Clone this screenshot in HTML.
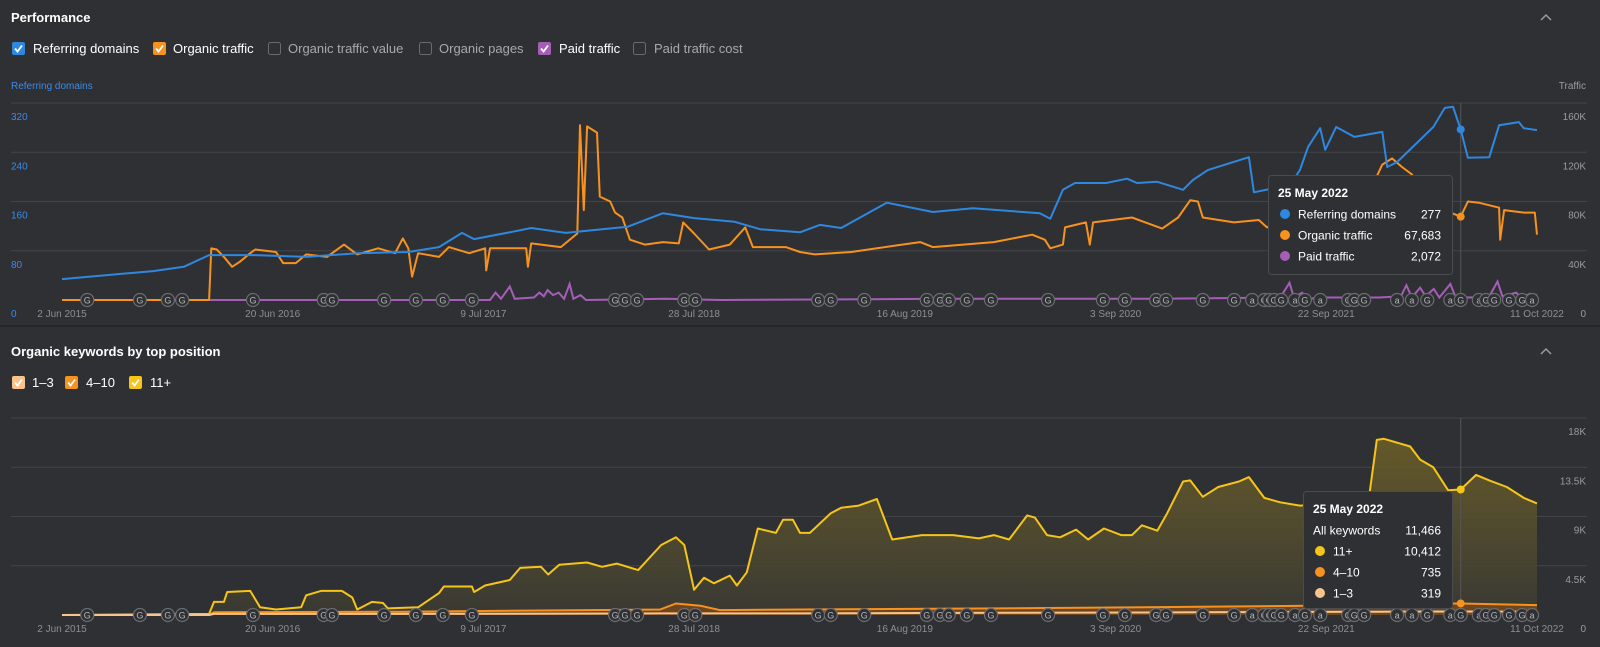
<!DOCTYPE html>
<html><head><meta charset="utf-8"><style>
html,body{margin:0;padding:0;background:#2f3033;}
body{width:1600px;height:642px;overflow:hidden;font-family:"Liberation Sans",Arial,sans-serif;}
svg text{font-family:"Liberation Sans",Arial,sans-serif;}
</style></head><body>
<svg id="svg" width="1600" height="642" viewBox="0 0 1600 642" xmlns="http://www.w3.org/2000/svg">
<defs>
<linearGradient id="yfill" x1="0" y1="0" x2="0" y2="1">
<stop offset="0" stop-color="#6e6028" stop-opacity="0.85"/>
<stop offset="1" stop-color="#3a3a33" stop-opacity="0.9"/>
</linearGradient>
</defs>
<rect x="0" y="0" width="1600" height="642" fill="#2f3033"/>
<g id="static"></g>
<g id="c1"></g>
<g id="c2"></g>
</svg>
<script>
// ===== Chart 1 data (day offset from 2 Jun 2015) =====
const tickLabels = ["2 Jun 2015","20 Jun 2016","9 Jul 2017","28 Jul 2018","16 Aug 2019","3 Sep 2020","22 Sep 2021","11 Oct 2022"];
const tickDays = [0,384,768,1152,1536,1920,2304,2688];
const leftTicks = [0,80,160,240,320];
const rightTicks = ["0","40K","80K","120K","160K"];
const rightTickVals = [0,40,80,120,160];
const rdDays = [0,166,222,268,352,445,538,631,687,729,751,816,855,918,984,1031,1095,1152,1226,1272,1345,1381,1420,1503,1587,1660,1782,1801,1824,1846,1903,1941,1959,1996,2043,2061,2088,2163,2172,2238,2256,2271,2293,2302,2322,2355,2406,2415,2433,2499,2520,2535,2549,2562,2601,2619,2655,2664,2688];
const rdVals = [34,47,54,73,73,70,76,78,86,109,99,110,117,109,115,119,141,133,127,115,110,122,117,158,143,149,141,132,179,190,190,197,190,192,179,195,211,232,175,187,211,249,279,244,281,265,273,216,224,281,312,314,277,231,232,284,289,279,276];
const otDays = [0,268,272,282,295,310,324,343,352,390,403,426,445,483,514,538,576,607,621,631,638,649,687,705,742,771,773,780,846,849,855,909,939,944,951,957,975,980,999,1008,1021,1035,1062,1095,1124,1132,1152,1179,1217,1245,1259,1319,1345,1372,1438,1531,1564,1587,1698,1768,1791,1801,1824,1828,1866,1873,1879,1950,2005,2034,2056,2070,2079,2136,2181,2196,2220,2293,2347,2384,2406,2424,2442,2460,2493,2530,2549,2562,2582,2619,2621,2628,2664,2684,2688];
const otVals = [0,0,42,41,35,27,31,38,41,39,30,30,37,35,45,37,42,38,50,42,19,38,35,43,38,42,24,42,42,27,46,43,54,142,73,141,136,84,80,71,67,49,45,47,46,63,54,41,45,59,43,43,39,37,39,45,47,43,47,53,49,42,45,59,63,45,63,67,58,67,81,80,67,63,65,59,63,69,73,89,110,115,108,102,69,71,67.7,80,79,75,49,73,71,71,53];
const ptDays = [0,780,790,800,816,825,860,870,878,885,895,905,915,925,932,945,955,1100,1200,1600,2000,2220,2237,2245,2260,2270,2300,2400,2440,2450,2460,2475,2485,2500,2510,2530,2540,2549,2600,2616,2625,2650,2660,2675,2688];
const ptVals = [0,0,6,1,11,1,2,6,3,8,4,6,1,13,1,4,0,1,0,1,1,2,14,2,6,1,2,2,3,12,2,10,3,9,2,13,2,2.1,2,15,3,6,2,5,4];
const annDays = [46,142,193,219,348,477,492,587,645,694,747,1008,1026,1048,1134,1154,1378,1401,1462,1576,1600,1616,1649,1693,1797,1897,1937,1994,2012,2079,2136,2169,2191,2200,2209,2222,2247,2265,2293,2344,2355,2373,2433,2460,2488,2530,2549,2582,2595,2610,2637,2661,2679];
const annKinds = "GGGGGGGGGGGGGGGGGGGGGGGGGGGGGGGaGGGGaGaGGGaaGaGaGGGGa";
// ===== Chart 2 data =====
const kwDays = [0,268,277,295,301,343,361,390,436,445,472,510,529,538,565,585,594,649,687,696,747,751,771,816,835,873,886,906,957,984,1011,1050,1092,1119,1134,1152,1170,1188,1217,1230,1248,1268,1301,1314,1332,1345,1363,1401,1420,1452,1485,1513,1567,1624,1671,1698,1726,1759,1773,1795,1819,1848,1870,1899,1930,1950,1968,1996,2014,2043,2056,2079,2107,2145,2163,2191,2220,2256,2329,2382,2396,2409,2457,2475,2499,2526,2549,2577,2601,2633,2664,2688];
const kwAll = [0,0.1,1.2,1.2,2.1,2.2,0.7,0.5,0.7,1.8,2.2,2.2,1.6,0.5,1.2,1.1,0.6,0.7,2.0,2.6,2.6,2.1,2.7,3.2,4.3,4.4,3.7,4.6,4.8,4.4,4.7,4.1,6.4,7.1,6.4,2.3,3.4,2.9,3.6,2.7,3.9,7.9,7.5,8.7,8.7,7.5,7.5,9.3,9.8,10.0,10.6,6.9,7.3,7.3,7.0,7.3,6.9,9.1,8.9,7.3,7.1,7.8,6.9,7.9,7.3,7.3,8.2,7.7,9.3,12.2,12.3,10.8,11.7,12.2,12.6,10.7,10.3,10.0,10.2,10.8,16.0,16.1,15.4,14.2,13.5,11.4,11.466,12.8,12.3,11.7,10.7,10.2];
const kwLowDays = [0,268,277,616,1090,1119,1163,1199,1345,1709,2074,2384,2400,2549,2688];
const kw13 = [0,0,0.1,0.1,0.15,0.15,0.15,0.15,0.15,0.2,0.25,0.3,0.3,0.319,0.3];
const kw410 = [0,0,0.15,0.2,0.35,0.9,0.7,0.3,0.35,0.4,0.5,0.6,0.75,0.735,0.6];
const kwTicks = ["0","4.5K","9K","13.5K","18K"];
const kwTickVals = [0,4.5,9,13.5,18];
const hoverDay = 2549;

const NS="http://www.w3.org/2000/svg";
function el(tag,attrs,parent,txt){const e=document.createElementNS(NS,tag);for(const k in attrs)e.setAttribute(k,attrs[k]);if(txt!==undefined)e.textContent=txt;parent.appendChild(e);return e;}
const X0=62,X1=1537,DMAX=2688;
const xs=d=>X0+d/DMAX*(X1-X0);
// chart1 scales
const Y1B=300,Y1T=103;
const yL=v=>Y1B-v/320*(Y1B-Y1T);
const yR=v=>Y1B-v/160*(Y1B-Y1T);
// chart2 scale
const Y2B=615,Y2T=418;
const yK=v=>Y2B-v/18*(Y2B-Y2T);
function interp(days,vals,d){if(d<=days[0])return vals[0];for(let i=1;i<days.length;i++){if(d<=days[i]){const t=(d-days[i-1])/(days[i]-days[i-1]);return vals[i-1]+t*(vals[i]-vals[i-1]);}}return vals[vals.length-1];}
function linePath(days,vals,ys){return days.map((d,i)=>(i?"L":"M")+xs(d).toFixed(1)+","+ys(vals[i]).toFixed(1)).join("");}

const st=document.getElementById("static"),c1=document.getElementById("c1"),c2=document.getElementById("c2");
// ---- headers
let t=el("text",{x:11,y:22,fill:"#ffffff","font-size":13,"font-weight":"bold"},st,"Performance");


t=el("path",{d:"M1541,20 L1546,15 L1551,20",stroke:"#9a9b9e","stroke-width":1.5,fill:"none"},st);


t=el("text",{x:11,y:356,fill:"#ffffff","font-size":13,"font-weight":"bold"},st,"Organic keywords by top position");


t=el("path",{d:"M1541,354 L1546,349 L1551,354",stroke:"#9a9b9e","stroke-width":1.5,fill:"none"},st);


t=el("line",{x1:0,y1:326,x2:1600,y2:326,stroke:"#25262a","stroke-width":2},st);



function checkbox(x,y,color,checked,label,tx,name,textColor){
  const g=el("g",{},st);
  
  
  if(checked){el("rect",{x:x,y:y,width:13,height:13,rx:2,fill:color},g);
    el("path",{d:`M${x+3},${y+6.5} L${x+5.5},${y+9.5} L${x+10},${y+3.5}`,stroke:"#fff","stroke-width":1.8,fill:"none"},g);}
  else el("rect",{x:x+0.5,y:y+0.5,width:12,height:12,rx:2,fill:"none",stroke:"#6a6b6f"},g);
  el("text",{x:tx,y:y+11,fill:textColor,"font-size":13},g,label);
}
checkbox(12,42,"#2f88e0",true,"Referring domains",33,"legend-referring-domains","#ffffff");
checkbox(153,42,"#f7921e",true,"Organic traffic",173,"legend-organic-traffic","#ffffff");
checkbox(268,42,"",false,"Organic traffic value",288,"legend-organic-traffic-value","#a8a9ac");
checkbox(419,42,"",false,"Organic pages",439,"legend-organic-pages","#a8a9ac");
checkbox(538,42,"#a55db8",true,"Paid traffic",559,"legend-paid-traffic","#ffffff");
checkbox(633,42,"",false,"Paid traffic cost",654,"legend-paid-traffic-cost","#a8a9ac");
checkbox(12,376,"#f9c48c",true,"1–3",32,"legend-pos-1-3","#ffffff");
checkbox(65,376,"#f7921e",true,"4–10",86,"legend-pos-4-10","#ffffff");
checkbox(129,376,"#f5c518",true,"11+",150,"legend-pos-11plus","#ffffff");

t=el("text",{x:11,y:89,fill:"#3b8beb","font-size":10},c1,"Referring domains");


t=el("text",{x:1586,y:89,fill:"#9a9b9e","font-size":10,"text-anchor":"end"},c1,"Traffic");



// ---- chart1 grid & axes
leftTicks.forEach((v,i)=>{
  const y=yL(v);
  if(i>0){const g=el("line",{x1:11,y1:y,x2:1587,y2:y,stroke:"#434448","stroke-width":1},c1);
  
  }
  const l=el("text",{x:11,y:y+17,fill:"#3b8beb","font-size":10},c1,String(v));
  
  
  const r=el("text",{x:1586,y:yR(rightTickVals[i])+17,fill:"#9a9b9e","font-size":10,"text-anchor":"end"},c1,rightTicks[i]);
  
  
});
function xTicks(parent,y){
  tickLabels.forEach((lab,i)=>{
    const x=xs(tickDays[i]);
    const a=i==tickLabels.length-1?"middle":"middle";
    const e=el("text",{x:x,y:y,fill:"#8e8f93","font-size":10,"text-anchor":a},parent,lab);
    
    
  });
}
xTicks(c1,317);
// crosshair
t=el("line",{x1:xs(hoverDay),y1:Y1T,x2:xs(hoverDay),y2:Y1B,stroke:"#55565a","stroke-width":1},c1);


// series
t=el("path",{d:linePath(ptDays,ptVals,yR),stroke:"#a55db8","stroke-width":2,fill:"none"},c1);


t=el("path",{d:linePath(otDays,otVals,yR),stroke:"#f7921e","stroke-width":2,fill:"none","stroke-linejoin":"round"},c1);


t=el("path",{d:linePath(rdDays,rdVals,yL),stroke:"#2f88e0","stroke-width":2,fill:"none","stroke-linejoin":"round"},c1);


function annotations(parent,y){
  annDays.forEach((d,i)=>{
    const g=el("g",{},parent);
    
    
    el("circle",{cx:xs(d),cy:y,r:6.5,fill:"#2f3033",stroke:"#6b6c70","stroke-width":1.2},g);
    el("text",{x:xs(d),y:y+3.5,fill:"#b5b6b9","font-size":9,"text-anchor":"middle"},g,annKinds[i]);
  });
}
annotations(c1,Y1B);
t=el("circle",{cx:xs(hoverDay),cy:yL(interp(rdDays,rdVals,hoverDay)),r:4,fill:"#2f88e0"},c1);


t=el("circle",{cx:xs(hoverDay),cy:yR(interp(otDays,otVals,hoverDay)),r:4,fill:"#f7921e"},c1);



function tooltip(parent,x,y,w,h,title,rows,name){
  const g=el("g",{},parent);
  
  
  el("rect",{x:x+0.5,y:y+0.5,width:w,height:h,rx:3,fill:"#2f3033",stroke:"#4a4b4f"},g);
  el("text",{x:x+10,y:y+22,fill:"#ffffff","font-size":12,"font-weight":"bold"},g,title);
  rows.forEach((r,i)=>{
    const ry=y+39+i*21;
    let tx=x+10;
    if(r[2]){el("circle",{cx:x+17,cy:ry,r:5,fill:r[2]},g);tx=x+30;}
    el("text",{x:tx,y:ry+4.5,fill:"#ffffff","font-size":12},g,r[0]);
    el("text",{x:x+w-11,y:ry+4.5,fill:"#ffffff","font-size":12,"text-anchor":"end"},g,r[1]);
  });
}
tooltip(c1,1268,175,184,99,"25 May 2022",[["Referring domains","277","#2f88e0"],["Organic traffic","67,683","#f7921e"],["Paid traffic","2,072","#a55db8"]],"tooltip-performance");

// ---- chart2
kwTickVals.forEach((v,i)=>{
  const y=yK(v);
  if(i>0){const g=el("line",{x1:11,y1:y,x2:1587,y2:y,stroke:"#434448","stroke-width":1},c2);
  
  }
  const r=el("text",{x:1586,y:y+17,fill:"#9a9b9e","font-size":10,"text-anchor":"end"},c2,kwTicks[i]);
  
  
});
xTicks(c2,632);
// stacks
const low410Top=kwLowDays.map((d,i)=>kw13[i]+kw410[i]);
const allTopLine=linePath(kwDays,kwAll,yK);
t=el("path",{d:allTopLine+`L${xs(DMAX)},${Y2B}L${xs(0)},${Y2B}Z`,fill:"url(#yfill)"},c2);


t=el("path",{d:allTopLine,stroke:"#f5c518","stroke-width":2,fill:"none","stroke-linejoin":"round"},c2);


const l410=linePath(kwLowDays,low410Top,yK);
t=el("path",{d:l410+`L${xs(DMAX)},${Y2B}L${xs(0)},${Y2B}Z`,fill:"#7a4a1c","fill-opacity":0.8},c2);


t=el("path",{d:l410,stroke:"#f7921e","stroke-width":2,fill:"none"},c2);


t=el("path",{d:linePath(kwLowDays,kw13,yK),stroke:"#f9c48c","stroke-width":2,fill:"none"},c2);


t=el("line",{x1:xs(hoverDay),y1:Y2T,x2:xs(hoverDay),y2:Y2B,stroke:"#55565a","stroke-width":1},c2);


annotations(c2,Y2B);
t=el("circle",{cx:xs(hoverDay),cy:yK(interp(kwDays,kwAll,hoverDay)),r:4,fill:"#f5c518"},c2);


t=el("circle",{cx:xs(hoverDay),cy:yK(interp(kwLowDays,low410Top,hoverDay)),r:4,fill:"#f7921e"},c2);


tooltip(c2,1303,491,149,117,"25 May 2022",[["All keywords","11,466",null],["11+","10,412","#f5c518"],["4–10","735","#f7921e"],["1–3","319","#f9c48c"]],"tooltip-keywords");
</script>
</body></html>
